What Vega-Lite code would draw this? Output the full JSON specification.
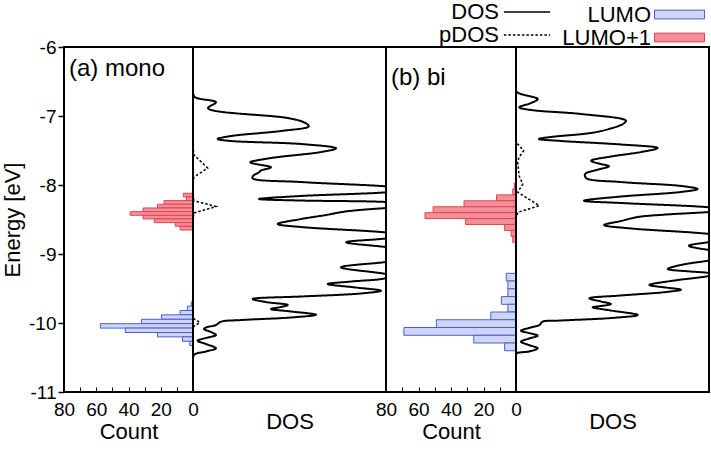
{
  "$schema": "https://vega.github.io/schema/vega-lite/v6.json",
  "background": "white",
  "padding": {"left": 0, "right": 3, "top": 0, "bottom": 5},
  "bounds": "flush",
  "config": {
    "font": "Liberation Sans",
    "view": {"stroke": "black", "strokeWidth": 2},
    "axis": {"labelFont": "Liberation Sans", "titleFont": "Liberation Sans", "labelColor": "black", "titleColor": "black", "titleFontWeight": "normal", "grid": false, "domain": false, "tickColor": "black"},
    "concat": {"spacing": 0},
    "title": {"font": "Liberation Sans", "fontWeight": "normal", "color": "black"}
  },
  "datasets": {
    "histA": [
      {"orbital": "LUMO+1", "e1": -8.120, "e2": -8.173, "count": 6},
      {"orbital": "LUMO+1", "e1": -8.173, "e2": -8.226, "count": 4},
      {"orbital": "LUMO+1", "e1": -8.226, "e2": -8.279, "count": 18},
      {"orbital": "LUMO+1", "e1": -8.279, "e2": -8.333, "count": 22},
      {"orbital": "LUMO+1", "e1": -8.333, "e2": -8.386, "count": 31},
      {"orbital": "LUMO+1", "e1": -8.386, "e2": -8.439, "count": 39},
      {"orbital": "LUMO+1", "e1": -8.439, "e2": -8.492, "count": 31},
      {"orbital": "LUMO+1", "e1": -8.492, "e2": -8.545, "count": 24},
      {"orbital": "LUMO+1", "e1": -8.545, "e2": -8.598, "count": 11},
      {"orbital": "LUMO+1", "e1": -8.598, "e2": -8.652, "count": 8},
      {"orbital": "LUMO", "e1": -9.691, "e2": -9.755, "count": 1},
      {"orbital": "LUMO", "e1": -9.755, "e2": -9.819, "count": 3.5},
      {"orbital": "LUMO", "e1": -9.819, "e2": -9.882, "count": 8},
      {"orbital": "LUMO", "e1": -9.882, "e2": -9.946, "count": 19.5},
      {"orbital": "LUMO", "e1": -9.946, "e2": -10.010, "count": 32},
      {"orbital": "LUMO", "e1": -10.010, "e2": -10.074, "count": 57.5},
      {"orbital": "LUMO", "e1": -10.074, "e2": -10.138, "count": 42},
      {"orbital": "LUMO", "e1": -10.138, "e2": -10.201, "count": 22},
      {"orbital": "LUMO", "e1": -10.201, "e2": -10.265, "count": 6.5},
      {"orbital": "LUMO", "e1": -10.265, "e2": -10.329, "count": 2}
    ],
    "histB": [
      {"orbital": "LUMO+1", "e1": -7.971, "e2": -8.057, "count": 1},
      {"orbital": "LUMO+1", "e1": -8.057, "e2": -8.143, "count": 2},
      {"orbital": "LUMO+1", "e1": -8.143, "e2": -8.229, "count": 12},
      {"orbital": "LUMO+1", "e1": -8.229, "e2": -8.315, "count": 32},
      {"orbital": "LUMO+1", "e1": -8.315, "e2": -8.401, "count": 51},
      {"orbital": "LUMO+1", "e1": -8.401, "e2": -8.487, "count": 56},
      {"orbital": "LUMO+1", "e1": -8.487, "e2": -8.572, "count": 31},
      {"orbital": "LUMO+1", "e1": -8.572, "e2": -8.658, "count": 7},
      {"orbital": "LUMO+1", "e1": -8.658, "e2": -8.744, "count": 3},
      {"orbital": "LUMO+1", "e1": -8.744, "e2": -8.830, "count": 2},
      {"orbital": "LUMO", "e1": -9.280, "e2": -9.392, "count": 6},
      {"orbital": "LUMO", "e1": -9.392, "e2": -9.504, "count": 5},
      {"orbital": "LUMO", "e1": -9.504, "e2": -9.617, "count": 5},
      {"orbital": "LUMO", "e1": -9.617, "e2": -9.729, "count": 9},
      {"orbital": "LUMO", "e1": -9.729, "e2": -9.841, "count": 5},
      {"orbital": "LUMO", "e1": -9.841, "e2": -9.953, "count": 15.5},
      {"orbital": "LUMO", "e1": -9.953, "e2": -10.065, "count": 49},
      {"orbital": "LUMO", "e1": -10.065, "e2": -10.178, "count": 69},
      {"orbital": "LUMO", "e1": -10.178, "e2": -10.290, "count": 26},
      {"orbital": "LUMO", "e1": -10.290, "e2": -10.402, "count": 7}
    ],
    "dosA": [
      {"kind": "DOS", "e": -6.60, "v": 0.0}, {"kind": "DOS", "e": -6.72, "v": 0.007}, {"kind": "DOS", "e": -6.80, "v": 0.119},
      {"kind": "DOS", "e": -6.888, "v": 0.078}, {"kind": "DOS", "e": -7.029, "v": 0.49}, {"kind": "DOS", "e": -7.091, "v": 0.575},
      {"kind": "DOS", "e": -7.149, "v": 0.6}, {"kind": "DOS", "e": -7.217, "v": 0.456}, {"kind": "DOS", "e": -7.29, "v": 0.197},
      {"kind": "DOS", "e": -7.333, "v": 0.128}, {"kind": "DOS", "e": -7.362, "v": 0.197}, {"kind": "DOS", "e": -7.406, "v": 0.56},
      {"kind": "DOS", "e": -7.468, "v": 0.741}, {"kind": "DOS", "e": -7.522, "v": 0.663}, {"kind": "DOS", "e": -7.609, "v": 0.404},
      {"kind": "DOS", "e": -7.671, "v": 0.297}, {"kind": "DOS", "e": -7.696, "v": 0.326}, {"kind": "DOS", "e": -7.743, "v": 0.404},
      {"kind": "DOS", "e": -7.79, "v": 0.352}, {"kind": "DOS", "e": -7.816, "v": 0.342}, {"kind": "DOS", "e": -7.87, "v": 0.311},
      {"kind": "DOS", "e": -7.903, "v": 0.309}, {"kind": "DOS", "e": -7.957, "v": 0.56}, {"kind": "DOS", "e": -8.019, "v": 1.0},
      {"kind": "DOS", "e": -8.06, "v": 1.15}, {"kind": "DOS", "e": -8.106, "v": 1.0}, {"kind": "DOS", "e": -8.159, "v": 0.56},
      {"kind": "DOS", "e": -8.203, "v": 0.342}, {"kind": "DOS", "e": -8.225, "v": 0.56}, {"kind": "DOS", "e": -8.246, "v": 1.0},
      {"kind": "DOS", "e": -8.29, "v": 1.2}, {"kind": "DOS", "e": -8.333, "v": 1.0}, {"kind": "DOS", "e": -8.384, "v": 0.79},
      {"kind": "DOS", "e": -8.435, "v": 0.689}, {"kind": "DOS", "e": -8.493, "v": 0.56}, {"kind": "DOS", "e": -8.565, "v": 0.439},
      {"kind": "DOS", "e": -8.609, "v": 0.56}, {"kind": "DOS", "e": -8.688, "v": 1.0}, {"kind": "DOS", "e": -8.73, "v": 1.1},
      {"kind": "DOS", "e": -8.775, "v": 1.0}, {"kind": "DOS", "e": -8.83, "v": 0.793}, {"kind": "DOS", "e": -8.899, "v": 1.0},
      {"kind": "DOS", "e": -9.0, "v": 1.3}, {"kind": "DOS", "e": -9.116, "v": 1.0}, {"kind": "DOS", "e": -9.193, "v": 0.767},
      {"kind": "DOS", "e": -9.29, "v": 1.0}, {"kind": "DOS", "e": -9.31, "v": 1.02}, {"kind": "DOS", "e": -9.348, "v": 1.0},
      {"kind": "DOS", "e": -9.399, "v": 0.819}, {"kind": "DOS", "e": -9.435, "v": 0.698}, {"kind": "DOS", "e": -9.486, "v": 0.845},
      {"kind": "DOS", "e": -9.532, "v": 0.974}, {"kind": "DOS", "e": -9.572, "v": 0.87}, {"kind": "DOS", "e": -9.616, "v": 0.56},
      {"kind": "DOS", "e": -9.652, "v": 0.309}, {"kind": "DOS", "e": -9.696, "v": 0.378}, {"kind": "DOS", "e": -9.739, "v": 0.491},
      {"kind": "DOS", "e": -9.768, "v": 0.456}, {"kind": "DOS", "e": -9.797, "v": 0.404}, {"kind": "DOS", "e": -9.833, "v": 0.508},
      {"kind": "DOS", "e": -9.88, "v": 0.637}, {"kind": "DOS", "e": -9.92, "v": 0.508}, {"kind": "DOS", "e": -9.957, "v": 0.249},
      {"kind": "DOS", "e": -9.981, "v": 0.145}, {"kind": "DOS", "e": -10.029, "v": 0.119}, {"kind": "DOS", "e": -10.065, "v": 0.067},
      {"kind": "DOS", "e": -10.087, "v": 0.057}, {"kind": "DOS", "e": -10.13, "v": 0.093}, {"kind": "DOS", "e": -10.174, "v": 0.119},
      {"kind": "DOS", "e": -10.217, "v": 0.067}, {"kind": "DOS", "e": -10.257, "v": 0.024}, {"kind": "DOS", "e": -10.304, "v": 0.067},
      {"kind": "DOS", "e": -10.367, "v": 0.119}, {"kind": "DOS", "e": -10.413, "v": 0.067}, {"kind": "DOS", "e": -10.464, "v": 0.005},
      {"kind": "DOS", "e": -10.6, "v": 0.0},
      {"kind": "pDOS", "e": -7.45, "v": 0.0}, {"kind": "pDOS", "e": -7.565, "v": 0.005}, {"kind": "pDOS", "e": -7.754, "v": 0.076},
      {"kind": "pDOS", "e": -7.884, "v": 0.005}, {"kind": "pDOS", "e": -7.95, "v": 0.0}, {"kind": "pDOS", "e": -8.15, "v": 0.0},
      {"kind": "pDOS", "e": -8.228, "v": 0.005}, {"kind": "pDOS", "e": -8.312, "v": 0.119}, {"kind": "pDOS", "e": -8.406, "v": 0.005},
      {"kind": "pDOS", "e": -8.5, "v": 0.0}, {"kind": "pDOS", "e": -9.93, "v": 0.0}, {"kind": "pDOS", "e": -9.99, "v": 0.035},
      {"kind": "pDOS", "e": -10.06, "v": 0.0}
    ],
    "dosB": [
      {"kind": "DOS", "e": -6.55, "v": 0.0}, {"kind": "DOS", "e": -6.648, "v": 0.003}, {"kind": "DOS", "e": -6.754, "v": 0.112},
      {"kind": "DOS", "e": -6.812, "v": 0.078}, {"kind": "DOS", "e": -6.874, "v": 0.017}, {"kind": "DOS", "e": -6.913, "v": 0.078},
      {"kind": "DOS", "e": -6.971, "v": 0.337}, {"kind": "DOS", "e": -7.068, "v": 0.57}, {"kind": "DOS", "e": -7.116, "v": 0.554},
      {"kind": "DOS", "e": -7.188, "v": 0.482}, {"kind": "DOS", "e": -7.246, "v": 0.389}, {"kind": "DOS", "e": -7.304, "v": 0.181},
      {"kind": "DOS", "e": -7.333, "v": 0.119}, {"kind": "DOS", "e": -7.362, "v": 0.233}, {"kind": "DOS", "e": -7.413, "v": 0.544},
      {"kind": "DOS", "e": -7.464, "v": 0.734}, {"kind": "DOS", "e": -7.522, "v": 0.648}, {"kind": "DOS", "e": -7.587, "v": 0.492},
      {"kind": "DOS", "e": -7.648, "v": 0.389}, {"kind": "DOS", "e": -7.696, "v": 0.44}, {"kind": "DOS", "e": -7.729, "v": 0.482},
      {"kind": "DOS", "e": -7.783, "v": 0.415}, {"kind": "DOS", "e": -7.841, "v": 0.358}, {"kind": "DOS", "e": -7.899, "v": 0.363},
      {"kind": "DOS", "e": -7.957, "v": 0.544}, {"kind": "DOS", "e": -8.014, "v": 0.855}, {"kind": "DOS", "e": -8.058, "v": 0.941},
      {"kind": "DOS", "e": -8.101, "v": 0.855}, {"kind": "DOS", "e": -8.167, "v": 0.544}, {"kind": "DOS", "e": -8.228, "v": 0.352},
      {"kind": "DOS", "e": -8.261, "v": 0.544}, {"kind": "DOS", "e": -8.323, "v": 1.0}, {"kind": "DOS", "e": -8.36, "v": 1.1},
      {"kind": "DOS", "e": -8.391, "v": 1.0}, {"kind": "DOS", "e": -8.428, "v": 0.777}, {"kind": "DOS", "e": -8.464, "v": 0.631},
      {"kind": "DOS", "e": -8.522, "v": 0.544}, {"kind": "DOS", "e": -8.58, "v": 0.456}, {"kind": "DOS", "e": -8.63, "v": 0.596},
      {"kind": "DOS", "e": -8.71, "v": 1.0}, {"kind": "DOS", "e": -8.76, "v": 1.1}, {"kind": "DOS", "e": -8.826, "v": 1.0},
      {"kind": "DOS", "e": -8.88, "v": 0.896}, {"kind": "DOS", "e": -8.942, "v": 1.0}, {"kind": "DOS", "e": -9.02, "v": 1.25},
      {"kind": "DOS", "e": -9.097, "v": 1.0}, {"kind": "DOS", "e": -9.159, "v": 0.855}, {"kind": "DOS", "e": -9.217, "v": 0.786},
      {"kind": "DOS", "e": -9.254, "v": 0.907}, {"kind": "DOS", "e": -9.275, "v": 1.0}, {"kind": "DOS", "e": -9.297, "v": 1.03},
      {"kind": "DOS", "e": -9.319, "v": 1.0}, {"kind": "DOS", "e": -9.391, "v": 0.803}, {"kind": "DOS", "e": -9.449, "v": 0.691},
      {"kind": "DOS", "e": -9.486, "v": 0.777}, {"kind": "DOS", "e": -9.517, "v": 0.855}, {"kind": "DOS", "e": -9.551, "v": 0.777},
      {"kind": "DOS", "e": -9.601, "v": 0.544}, {"kind": "DOS", "e": -9.642, "v": 0.38}, {"kind": "DOS", "e": -9.688, "v": 0.44},
      {"kind": "DOS", "e": -9.725, "v": 0.492}, {"kind": "DOS", "e": -9.754, "v": 0.44}, {"kind": "DOS", "e": -9.772, "v": 0.397},
      {"kind": "DOS", "e": -9.819, "v": 0.492}, {"kind": "DOS", "e": -9.884, "v": 0.631}, {"kind": "DOS", "e": -9.928, "v": 0.492},
      {"kind": "DOS", "e": -9.964, "v": 0.233}, {"kind": "DOS", "e": -9.981, "v": 0.138}, {"kind": "DOS", "e": -10.029, "v": 0.121},
      {"kind": "DOS", "e": -10.072, "v": 0.067}, {"kind": "DOS", "e": -10.112, "v": 0.026}, {"kind": "DOS", "e": -10.145, "v": 0.067},
      {"kind": "DOS", "e": -10.184, "v": 0.112}, {"kind": "DOS", "e": -10.225, "v": 0.067}, {"kind": "DOS", "e": -10.271, "v": 0.026},
      {"kind": "DOS", "e": -10.319, "v": 0.067}, {"kind": "DOS", "e": -10.367, "v": 0.112}, {"kind": "DOS", "e": -10.413, "v": 0.067},
      {"kind": "DOS", "e": -10.449, "v": 0.0}, {"kind": "DOS", "e": -10.6, "v": 0.0},
      {"kind": "pDOS", "e": -7.35, "v": 0.0}, {"kind": "pDOS", "e": -7.406, "v": 0.009}, {"kind": "pDOS", "e": -7.503, "v": 0.04},
      {"kind": "pDOS", "e": -7.6, "v": 0.015}, {"kind": "pDOS", "e": -7.671, "v": 0.009}, {"kind": "pDOS", "e": -7.865, "v": 0.016},
      {"kind": "pDOS", "e": -7.986, "v": 0.035}, {"kind": "pDOS", "e": -8.106, "v": 0.009}, {"kind": "pDOS", "e": -8.3, "v": 0.121},
      {"kind": "pDOS", "e": -8.396, "v": 0.009}, {"kind": "pDOS", "e": -8.5, "v": 0.0}
    ]
  },
  "hconcat": [
    {
      "width": 129, "height": 345,
      "title": {"text": "(a) mono", "anchor": "start", "frame": "group", "orient": "top", "offset": -8, "baseline": "top", "dx": 5, "dy": 35, "fontSize": 24},
      "data": {"name": "histA"},
      "mark": {"type": "rect", "strokeWidth": 1},
      "encoding": {
        "y": {"field": "e1", "type": "quantitative", "scale": {"domain": [-11, -6], "nice": false},
              "axis": {"title": "Energy [eV]", "values": [-11, -10, -9, -8, -7, -6], "tickSize": 6, "tickWidth": 1.5, "labelFontSize": 19, "titleFontSize": 22, "labelPadding": 2, "titlePadding": 4, "labelExpr": "replace(datum.label, '−', '-')"}},
        "y2": {"field": "e2"},
        "x": {"field": "count", "type": "quantitative", "scale": {"domain": [0, 80], "reverse": true, "nice": false},
              "axis": {"title": "Count", "values": [0, 10, 20, 30, 40, 50, 60, 70, 80], "tickSize": -5, "tickWidth": 1, "labelFlush": false, "labelPadding": 13, "labelFontSize": 19, "titleFontSize": 22, "titlePadding": 2, "labelExpr": "datum.value % 20 == 0 ? datum.label : ''"}},
        "x2": {"datum": 0},
        "fill": {"field": "orbital", "type": "nominal", "scale": {"domain": ["LUMO", "LUMO+1"], "range": ["#cfd5f4", "#f2909a"]},
                 "legend": {"title": null, "orient": "none", "legendX": 604, "legendY": -44, "symbolType": "M-2.27,-0.4H2.27V0.4H-2.27Z", "symbolSize": 484, "symbolStrokeWidth": 1, "labelFontSize": 22, "labelFont": "Liberation Sans", "labelColor": "black", "labelAlign": "right", "labelOffset": -40, "rowPadding": 0}},
        "stroke": {"field": "orbital", "type": "nominal", "scale": {"domain": ["LUMO", "LUMO+1"], "range": ["#4a5ed6", "#e6404e"]},
                 "legend": {"title": null, "orient": "none", "legendX": 604, "legendY": -44, "symbolType": "M-2.27,-0.4H2.27V0.4H-2.27Z", "symbolSize": 484, "symbolStrokeWidth": 1, "labelFontSize": 22, "labelFont": "Liberation Sans", "labelColor": "black", "labelAlign": "right", "labelOffset": -40, "rowPadding": 0}}
      }
    },
    {
      "width": 193, "height": 345,
      "data": {"name": "dosA"},
      "encoding": {
        "y": {"field": "e", "type": "quantitative", "scale": {"domain": [-11, -6], "nice": false}, "axis": null},
        "x": {"field": "v", "type": "quantitative", "scale": {"domain": [0, 1], "nice": false, "zero": false},
              "axis": {"title": "DOS", "labels": false, "ticks": false, "titleFontSize": 22, "titlePadding": 19}},
        "order": {"field": "e", "type": "quantitative"},
        "strokeDash": {"field": "kind", "type": "nominal", "scale": {"domain": ["DOS", "pDOS"], "range": [[1, 0], [2.5, 2]]},
                       "legend": {"title": null, "orient": "none", "legendX": 451, "legendY": -47, "symbolType": "M-2.1,0H2.1", "symbolSize": 484, "symbolStrokeColor": "black", "symbolStrokeWidth": 1.5, "labelFontSize": 22, "labelFont": "Liberation Sans", "labelColor": "black", "labelAlign": "right", "labelOffset": -40, "rowPadding": 0}}
      },
      "layer": [
        {"transform": [{"filter": "datum.kind == 'DOS'"}], "mark": {"type": "line", "interpolate": "catmull-rom", "clip": true, "color": "black", "strokeWidth": 2}},
        {"transform": [{"filter": "datum.kind == 'pDOS'"}], "mark": {"type": "line", "clip": true, "color": "black", "strokeWidth": 1.5}}
      ]
    },
    {
      "width": 130, "height": 345,
      "title": {"text": "(b) bi", "anchor": "start", "frame": "group", "orient": "top", "offset": -8, "baseline": "top", "dx": 5, "dy": 35, "fontSize": 24},
      "data": {"name": "histB"},
      "mark": {"type": "rect", "strokeWidth": 1},
      "encoding": {
        "y": {"field": "e1", "type": "quantitative", "scale": {"domain": [-11, -6], "nice": false}, "axis": null},
        "y2": {"field": "e2"},
        "x": {"field": "count", "type": "quantitative", "scale": {"domain": [0, 80], "reverse": true, "nice": false},
              "axis": {"title": "Count", "values": [0, 10, 20, 30, 40, 50, 60, 70, 80], "tickSize": -5, "tickWidth": 1, "labelFlush": false, "labelPadding": 13, "labelFontSize": 19, "titleFontSize": 22, "titlePadding": 2, "labelExpr": "datum.value % 20 == 0 ? datum.label : ''"}},
        "x2": {"datum": 0},
        "fill": {"field": "orbital", "type": "nominal"},
        "stroke": {"field": "orbital", "type": "nominal"}
      }
    },
    {
      "width": 193, "height": 345,
      "data": {"name": "dosB"},
      "encoding": {
        "y": {"field": "e", "type": "quantitative", "scale": {"domain": [-11, -6], "nice": false}, "axis": null},
        "x": {"field": "v", "type": "quantitative", "scale": {"domain": [0, 1], "nice": false, "zero": false},
              "axis": {"title": "DOS", "labels": false, "ticks": false, "titleFontSize": 22, "titlePadding": 19}},
        "order": {"field": "e", "type": "quantitative"},
        "strokeDash": {"field": "kind", "type": "nominal"}
      },
      "layer": [
        {"transform": [{"filter": "datum.kind == 'DOS'"}], "mark": {"type": "line", "interpolate": "catmull-rom", "clip": true, "color": "black", "strokeWidth": 2}},
        {"transform": [{"filter": "datum.kind == 'pDOS'"}], "mark": {"type": "line", "clip": true, "color": "black", "strokeWidth": 1.5}}
      ]
    }
  ]
}
